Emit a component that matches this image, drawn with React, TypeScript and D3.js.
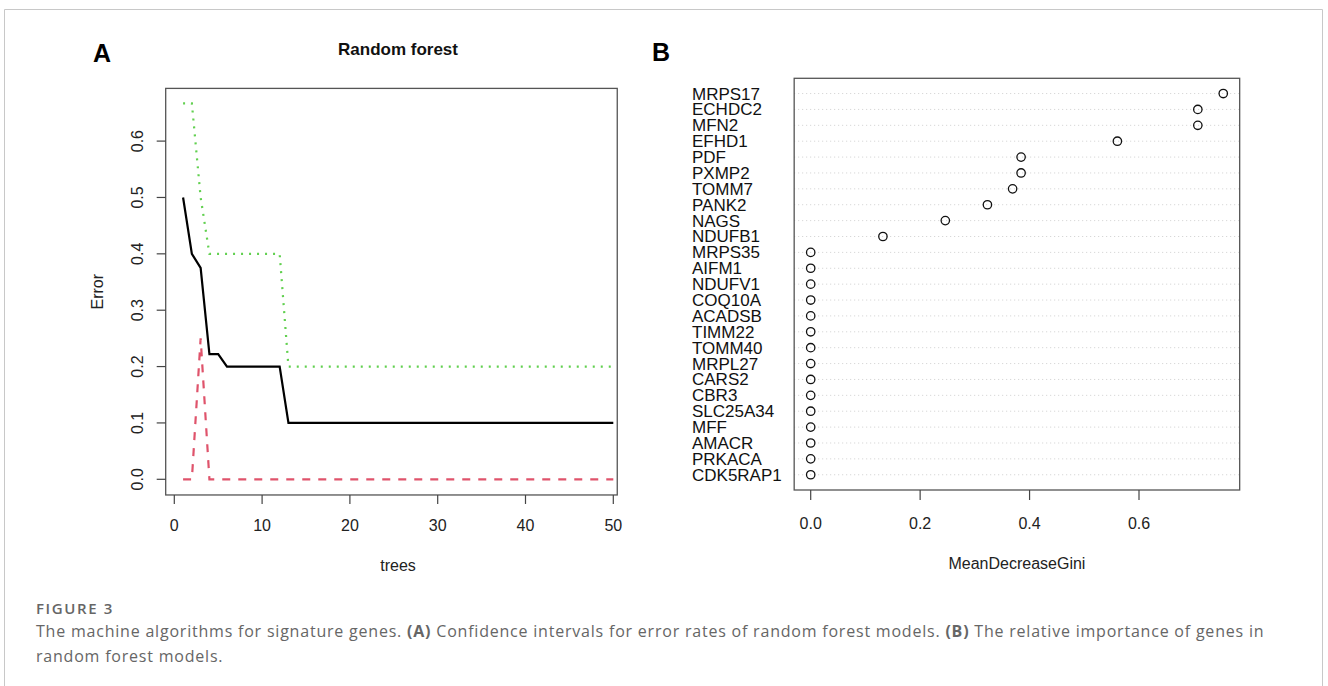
import React from 'react';
import * as d3 from 'd3';

// ---------- Panel A data (random forest error vs number of trees) ----------
const trees: number[] = [
  1, 2, 3, 4, 5, 6, 7, 8, 9, 10, 11, 12, 13, 14, 15, 16, 17, 18, 19, 20, 21, 22, 23, 24, 25,
  26, 27, 28, 29, 30, 31, 32, 33, 34, 35, 36, 37, 38, 39, 40, 41, 42, 43, 44, 45, 46, 47, 48, 49, 50,
];
const oobError: number[] = [
  0.5, 0.4, 0.375, 0.222, 0.222, 0.2, 0.2, 0.2, 0.2, 0.2, 0.2, 0.2, 0.1, 0.1, 0.1, 0.1, 0.1, 0.1, 0.1, 0.1, 0.1, 0.1, 0.1, 0.1, 0.1,
  0.1, 0.1, 0.1, 0.1, 0.1, 0.1, 0.1, 0.1, 0.1, 0.1, 0.1, 0.1, 0.1, 0.1, 0.1, 0.1, 0.1, 0.1, 0.1, 0.1, 0.1, 0.1, 0.1, 0.1, 0.1,
];
const class1Error: number[] = [
  0, 0, 0.25, 0, 0, 0, 0, 0, 0, 0, 0, 0, 0, 0, 0, 0, 0, 0, 0, 0, 0, 0, 0, 0, 0,
  0, 0, 0, 0, 0, 0, 0, 0, 0, 0, 0, 0, 0, 0, 0, 0, 0, 0, 0, 0, 0, 0, 0, 0, 0,
];
const class2Error: number[] = [
  0.667, 0.667, 0.5, 0.4, 0.4, 0.4, 0.4, 0.4, 0.4, 0.4, 0.4, 0.4, 0.2, 0.2, 0.2, 0.2, 0.2, 0.2, 0.2, 0.2, 0.2, 0.2, 0.2, 0.2, 0.2,
  0.2, 0.2, 0.2, 0.2, 0.2, 0.2, 0.2, 0.2, 0.2, 0.2, 0.2, 0.2, 0.2, 0.2, 0.2, 0.2, 0.2, 0.2, 0.2, 0.2, 0.2, 0.2, 0.2, 0.2, 0.2,
];
const xTicksA: number[] = [0, 10, 20, 30, 40, 50];
const yTicksA: number[] = [0, 0.1, 0.2, 0.3, 0.4, 0.5, 0.6];

// ---------- Panel B data (MeanDecreaseGini, top to bottom) ----------
const genes: string[] = [
  'MRPS17', 'ECHDC2', 'MFN2', 'EFHD1', 'PDF', 'PXMP2', 'TOMM7', 'PANK2', 'NAGS', 'NDUFB1',
  'MRPS35', 'AIFM1', 'NDUFV1', 'COQ10A', 'ACADSB', 'TIMM22', 'TOMM40', 'MRPL27', 'CARS2', 'CBR3',
  'SLC25A34', 'MFF', 'AMACR', 'PRKACA', 'CDK5RAP1',
];
const gini: number[] = [
  0.754, 0.7075, 0.7075, 0.5605, 0.3845, 0.3845, 0.369, 0.323, 0.246, 0.132,
  0, 0, 0, 0, 0, 0, 0, 0, 0, 0,
  0, 0, 0, 0, 0,
];
const xTicksB: number[] = [0, 0.2, 0.4, 0.6];

const FONT = '"Liberation Sans", Arial, Helvetica, sans-serif';
const CAP_FONT = '"Open Sans", "Noto Sans", sans-serif';

export default function App() {
  // Panel A scales
  const xA = d3.scaleLinear().domain([0, 50]).range([174.3, 613.3]);
  const yA = d3.scaleLinear().domain([0, 0.6]).range([479.3, 141.1]);
  const boxA = { x0: xA(-0.98), x1: xA(50.45), y0: yA(0.6935), y1: yA(-0.0278) };

  const line = d3
    .line<number>()
    .x((_, i) => xA(trees[i]))
    .y((d) => yA(d));

  // Panel B scales
  const xB = d3.scaleLinear().domain([0, 0.6]).range([810.7, 1139]);
  const yB = d3.scaleLinear().domain([0.04, 25.96]).range([490, 78.3]);
  const boxB = { x0: xB(-0.0302), x1: xB(0.784), y0: yB(25.96), y1: yB(0.04) };
  const n = genes.length;
  const rowY = (i: number) => yB(n - i);

  const fmt = d3.format('.1f');

  return (
    <svg
      width={1328}
      height={686}
      style={{ position: 'absolute', left: 0, top: 0, background: '#fff' }}
      fontFamily={FONT}
    >
      <rect x={0} y={0} width={1328} height={686} fill="#fff" />
      {/* figure frame */}
      <path d="M4.5,700 V9.5 H1322.5 V700" fill="none" stroke="#c8c8c8" strokeWidth={1} />

      {/* ================= Panel A ================= */}
      <text x={93} y={62} fontSize={25} fontWeight="bold" fill="#000">A</text>
      <text x={398} y={55} fontSize={17} fontWeight="bold" textAnchor="middle" fill="#111">
        Random forest
      </text>

      {/* lines */}
      <path d={line(class2Error) || ''} fill="none" stroke="#61D04F" strokeWidth={2.2} strokeDasharray="2,6" />
      <path d={line(class1Error) || ''} fill="none" stroke="#DF536B" strokeWidth={2.2} strokeDasharray="8,8" />
      <path d={line(oobError) || ''} fill="none" stroke="#000" strokeWidth={2.2} />

      {/* box */}
      <rect
        x={boxA.x0}
        y={boxA.y0}
        width={boxA.x1 - boxA.x0}
        height={boxA.y1 - boxA.y0}
        fill="none"
        stroke="#555"
        strokeWidth={1.3}
      />

      {/* x axis */}
      {xTicksA.map((t) => (
        <g key={'xa' + t}>
          <line x1={xA(t)} x2={xA(t)} y1={boxA.y1} y2={boxA.y1 + 9} stroke="#444" strokeWidth={1.2} />
          <text x={xA(t)} y={530.8} fontSize={16} textAnchor="middle" fill="#222">
            {t}
          </text>
        </g>
      ))}
      <text x={398} y={570.5} fontSize={16} textAnchor="middle" fill="#222">trees</text>

      {/* y axis */}
      {yTicksA.map((t) => (
        <g key={'ya' + t}>
          <line x1={boxA.x0 - 9} x2={boxA.x0} y1={yA(t)} y2={yA(t)} stroke="#444" strokeWidth={1.2} />
          <text
            transform={`translate(${142.8},${yA(t)}) rotate(-90)`}
            fontSize={16}
            textAnchor="middle"
            fill="#222"
          >
            {fmt(t)}
          </text>
        </g>
      ))}
      <text
        transform={`translate(${102.7},${(boxA.y0 + boxA.y1) / 2}) rotate(-90)`}
        fontSize={16}
        textAnchor="middle"
        fill="#222"
      >
        Error
      </text>

      {/* ================= Panel B ================= */}
      <text x={652} y={61} fontSize={25} fontWeight="bold" fill="#000">B</text>

      {genes.map((g, i) => (
        <g key={g}>
          <line
            x1={boxB.x0}
            x2={boxB.x1}
            y1={rowY(i)}
            y2={rowY(i)}
            stroke="#cfcfcf"
            strokeWidth={1}
            strokeDasharray="1,3"
          />
          <text x={692} y={rowY(i) + 6} fontSize={17} fill="#111">
            {g}
          </text>
        </g>
      ))}
      {genes.map((g, i) => (
        <circle key={'c' + g} cx={xB(gini[i])} cy={rowY(i)} r={4.2} fill="none" stroke="#111" strokeWidth={1.3} />
      ))}

      <rect
        x={boxB.x0}
        y={boxB.y0}
        width={boxB.x1 - boxB.x0}
        height={boxB.y1 - boxB.y0}
        fill="none"
        stroke="#555"
        strokeWidth={1.3}
      />
      {xTicksB.map((t) => (
        <g key={'xb' + t}>
          <line x1={xB(t)} x2={xB(t)} y1={boxB.y1} y2={boxB.y1 + 10} stroke="#444" strokeWidth={1.2} />
          <text x={xB(t)} y={528.5} fontSize={16} textAnchor="middle" fill="#222">
            {fmt(t)}
          </text>
        </g>
      ))}
      <text x={(boxB.x0 + boxB.x1) / 2} y={568.8} fontSize={16} textAnchor="middle" fill="#222">
        MeanDecreaseGini
      </text>

      {/* ================= Caption ================= */}
      <text x={36} y={613.5} fontFamily={CAP_FONT} fontSize={15} fontWeight={600} letterSpacing={1.6} fill="#666">
        FIGURE 3
      </text>
      <text x={36} y={637} fontFamily={CAP_FONT} fontSize={16} letterSpacing={0.79} fill="#666">
        The machine algorithms for signature genes. <tspan fontWeight={700}>(A)</tspan> Confidence intervals for error
        rates of random forest models. <tspan fontWeight={700}>(B)</tspan> The relative importance of genes in
      </text>
      <text x={36} y={662} fontFamily={CAP_FONT} fontSize={16} letterSpacing={0.79} fill="#666">
        random forest models.
      </text>
    </svg>
  );
}
